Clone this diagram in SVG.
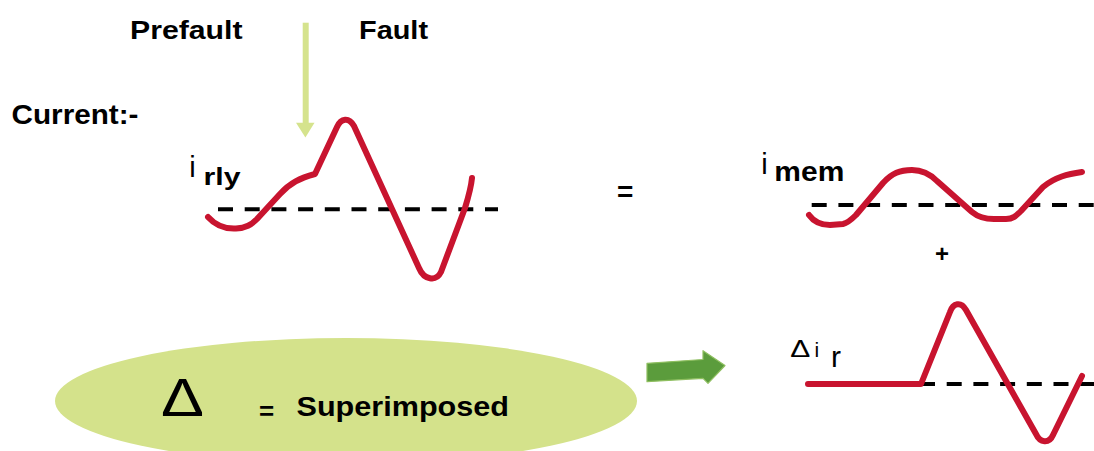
<svg xmlns="http://www.w3.org/2000/svg" width="1094" height="451" viewBox="0 0 1094 451">
<style>
text{font-family:"Liberation Sans",Arial,sans-serif;fill:#000}
.b{font-weight:bold}
.wave{fill:none;stroke:#c8142f;stroke-width:6;stroke-linecap:round;stroke-linejoin:round}
.axis{fill:none;stroke:#000;stroke-width:4;stroke-dasharray:15 11.7}
</style>
<rect width="1094" height="451" fill="#fff"/>
<g id="labels">
<text class="b" x="130" y="38.5" font-size="26" textLength="112.5" lengthAdjust="spacingAndGlyphs">Prefault</text>
<text class="b" x="359" y="39.3" font-size="26" textLength="69" lengthAdjust="spacingAndGlyphs">Fault</text>
<text class="b" x="11.5" y="124.3" font-size="27" textLength="127" lengthAdjust="spacingAndGlyphs">Current:-</text>
</g>
<g id="node-irly">
<path class="axis" d="M218,209.3 H498"/>
<path class="wave" d="M208,217 C216,226 226,229 236,228.5 C246,228 251,225 257,219 L280,194 C290,183 300,178 315,174 L337,127 C341,118 349,117 354,126 L419,268 C424,280 436,282 441,272 L465,208 C469,195 471,188 472,178"/>
<text x="189.3" y="177.3" font-size="29">i</text>
<text class="b" x="203.5" y="185" font-size="24" textLength="37" lengthAdjust="spacingAndGlyphs">rly</text>
</g>
<g id="node-equals">
<text class="b" x="617" y="201" font-size="28">=</text>
</g>
<g id="node-imem">
<path class="axis" d="M811.7,205 H1094"/>
<path class="wave" d="M809,215 C814,222 820,225 830,225 L843,224 C848,223 852,219 856,215 L883,183 C892,173 900,170 912,170 C922,170 930,174 937,181 L972,212 C978,217 984,219 994,219 L1006,219 C1013,219 1016,216 1021,211 L1043,187 C1055,177 1068,174 1082,172"/>
<text x="761.3" y="174.3" font-size="29">i</text>
<text class="b" x="774.3" y="180.7" font-size="28" textLength="70" lengthAdjust="spacingAndGlyphs">mem</text>
</g>
<g id="node-plus">
<text class="b" x="942" y="262" font-size="24" text-anchor="middle">+</text>
</g>
<g id="node-delta-ir">
<path class="axis" d="M920,384 H1094"/>
<path class="wave" d="M808,384 L921,384 L950,312 C953,303 961,301 966,310 L1036,434 C1040,443 1049,444 1053,435 L1082,376"/>
<text x="790.3" y="356.5" font-size="24" font-family="DejaVu Sans, sans-serif" textLength="20" lengthAdjust="spacingAndGlyphs">Δ</text>
<text x="814.5" y="356.5" font-size="21">i</text>
<text x="831" y="367.3" font-size="30">r</text>
</g>
<g id="node-superimposed">
<ellipse cx="346" cy="401" rx="291" ry="63" fill="#d4e28b"/>
<text x="161" y="416" font-size="54" font-family="Inter, 'DejaVu Sans', sans-serif" font-weight="200" textLength="43" lengthAdjust="spacingAndGlyphs">Δ</text>
<text class="b" x="259" y="420" font-size="26">=</text>
<text class="b" x="296.5" y="416" font-size="27" textLength="212.5" lengthAdjust="spacingAndGlyphs">Superimposed</text>
</g>
<g id="connectors">
<path d="M305.7,22.7 V124" stroke="#d5e38d" stroke-width="6" fill="none"/>
<polygon points="296,122.7 314.5,122.7 305.4,137.5" fill="#d5e38d"/>
<polygon points="647,363.3 703,359.5 703,350.7 725,365.5 708,383.3 703,378.3 647,381.7" fill="#5b9c3c" stroke="#8fbf60" stroke-width="1.2" stroke-linejoin="round"/>
</g>
</svg>
